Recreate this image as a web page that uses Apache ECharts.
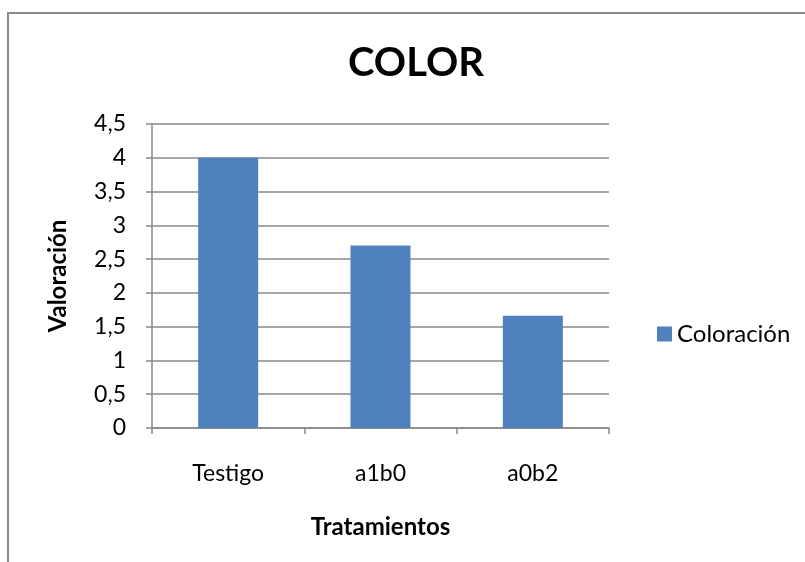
<!DOCTYPE html>
<html lang="es">
<head>
    <meta charset="UTF-8">
    <script src="https://cdn.jsdelivr.net/npm/echarts@6/dist/echarts.min.js"></script>
    <title>COLOR</title>
    <style>
        html, body { margin: 0; padding: 0; background: #fff; }
        #frame { position: absolute; left: 7px; top: 12px; width: 820px; height: 580px;
                 border-left: 2px solid #8a8a8a; border-top: 2px solid #8a8a8a; }
        #chart { position: absolute; left: 0; top: 0; width: 805px; height: 562px; }
    </style>
</head>
<body>
    <div id="frame"></div>
    <div id="chart"></div>
    <script>
        var categories = ['Testigo', 'a1b0', 'a0b2'];
        var coloracion = [4, 2.7, 1.66];
        var seriesName = 'Coloración';

        var fontName = 'Lato, "Open Sans", sans-serif';
        var comma = function (v) { return String(v).replace('.', ','); };

        var chart = echarts.init(document.getElementById('chart'), null, { renderer: 'canvas' });
        chart.setOption({
            backgroundColor: 'transparent',
            animation: false,
            textStyle: { fontFamily: fontName },
            title: {
                text: 'COLOR',
                left: 411,
                textAlign: 'center',
                top: 38,
                textStyle: { fontSize: 40, fontWeight: 'bold', color: '#000', fontFamily: fontName }
            },
            legend: {
                data: [seriesName],
                left: 652,
                top: 317,
                icon: 'rect',
                itemWidth: 15,
                itemHeight: 15,
                textStyle: { fontSize: 24, color: '#000', fontFamily: fontName }
            },
            grid: { left: 152, right: 196, top: 124, bottom: 134, outerBoundsMode: 'none' },
            xAxis: {
                type: 'category',
                data: categories,
                name: 'Tratamientos',
                nameLocation: 'middle',
                nameGap: 87,
                nameTextStyle: { fontSize: 24, fontWeight: 'bold', color: '#000' },
                axisLine: { lineStyle: { color: '#888', width: 1.5 } },
                axisTick: { show: true, length: 6, lineStyle: { color: '#888', width: 1.5 } },
                axisLabel: { fontSize: 23, color: '#000', margin: 34 }
            },
            yAxis: {
                type: 'value',
                min: 0,
                max: 4.5,
                interval: 0.5,
                name: 'Valoración',
                nameLocation: 'middle',
                nameRotate: 90,
                nameGap: 82,
                nameTextStyle: { fontSize: 24, fontWeight: 'bold', color: '#000' },
                axisLine: { show: true, lineStyle: { color: '#888', width: 1.5 } },
                axisTick: { show: true, length: 6, lineStyle: { color: '#888', width: 1.5 } },
                splitLine: { lineStyle: { color: '#888', width: 1.5 } },
                axisLabel: { fontSize: 23, color: '#000', margin: 26, formatter: comma }
            },
            series: [{
                name: seriesName,
                type: 'bar',
                data: coloracion,
                barWidth: 60,
                itemStyle: { color: '#4f81bd' }
            }]
        });
    </script>
</body>
</html>
